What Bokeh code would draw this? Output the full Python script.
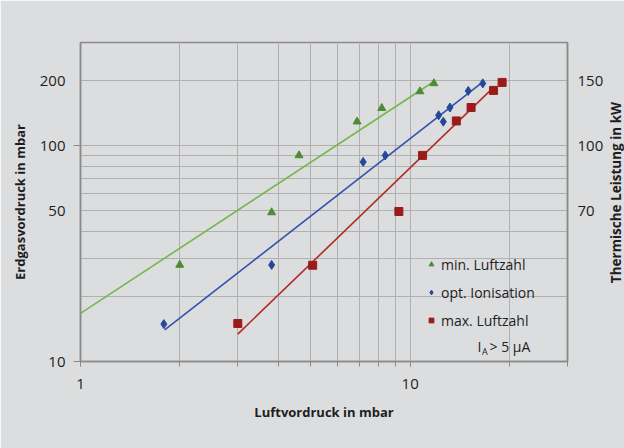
import math
from bokeh.plotting import figure
from bokeh.models import (FixedTicker, LogAxis, Legend, LegendItem, Label)
from bokeh.embed import file_html
from bokeh.resources import INLINE

# ---- data ----
min_x = [2.0, 3.8, 4.6, 6.9, 8.2, 10.7, 11.8]
min_y = [28, 49, 90, 129, 149, 178, 194]

opt_x = [1.79, 3.8, 7.2, 8.4, 12.2, 12.6, 13.2, 15.0, 16.6]
opt_y = [14.9, 28, 84, 90, 138, 129, 150, 179, 194]

max_x = [3.0, 5.06, 9.24, 10.9, 13.8, 15.3, 17.9, 19.0]
max_y = [15.0, 27.9, 49.5, 90, 130, 150, 180, 196]

# trend lines (power fits) end points
min_fit_x = [1.0, 11.8]
min_fit_y = [16.7, 198]
opt_fit_x = [1.8, 16.4]
opt_fit_y = [14.0, 194]
max_fit_x = [3.0, 17.9]
max_fit_y = [13.4, 186]

x_label_ticks = [1, 10]
x_minor_ticks = [1, 2, 3, 4, 5, 6, 7, 8, 9, 10, 20, 30]
x_grid_ticks = [2, 3, 4, 5, 6, 7, 8, 9, 10, 20]
y_label_ticks = [10, 50, 100, 200]
y_minor_ticks = [10, 100]
y_grid_ticks = [20, 30, 40, 50, 60, 70, 80, 90, 100, 200]
kw_tick_pos = [50, 100, 200]
kw_tick_labels = ["70", "100", "150"]

series_names = ["min. Luftzahl", "opt. Ionisation", "max. Luftzahl"]

BG = "#dcdddf"
GRID = "#b0b0b0"
FRAME = "#8a8a8a"
FONT = "Open Sans"
TXT = "#1e1e1e"

p = figure(width=624, height=448, x_axis_type="log", y_axis_type="log",
           x_range=(1, 30), y_range=(10, 300),
           output_backend="svg", toolbar_location=None,
           min_border_left=80, min_border_right=57, min_border_top=42, min_border_bottom=87)

p.background_fill_color = BG
p.border_fill_color = BG
p.outline_line_color = FRAME
p.outline_line_width = 1.5

# grids
p.xgrid.ticker = FixedTicker(ticks=x_grid_ticks)
p.ygrid.ticker = FixedTicker(ticks=y_grid_ticks)
for g in (p.xgrid, p.ygrid):
    g.grid_line_color = GRID
    g.grid_line_width = 1

# x axis
xa = p.xaxis[0]
xa.ticker = FixedTicker(ticks=x_label_ticks, minor_ticks=x_minor_ticks)
xa.major_label_overrides = {t: str(t) for t in x_label_ticks}
xa.major_tick_out = 5
xa.major_tick_in = 0
xa.minor_tick_out = 5
xa.minor_tick_in = 0
xa.axis_label = "Luftvordruck in mbar"

# left y axis
ya = p.yaxis[0]
ya.ticker = FixedTicker(ticks=y_label_ticks, minor_ticks=y_minor_ticks)
ya.major_label_overrides = {t: str(t) for t in y_label_ticks}
ya.major_tick_out = 0
ya.major_tick_in = 0
ya.minor_tick_out = 7
ya.minor_tick_in = 0
ya.axis_label = "Erdgasvordruck in mbar"

# right y axis
ra = LogAxis(ticker=FixedTicker(ticks=kw_tick_pos, minor_ticks=[]),
             major_label_overrides={pos: lab for pos, lab in zip(kw_tick_pos, kw_tick_labels)})
ra.major_tick_out = 0
ra.major_tick_in = 0
ra.minor_tick_out = 0
ra.minor_tick_in = 0
p.add_layout(ra, "right")

for ax in (xa, ya, ra):
    ax.axis_line_color = FRAME
    ax.axis_line_width = 1.5
    ax.major_tick_line_color = FRAME
    ax.minor_tick_line_color = FRAME
    ax.major_label_text_font = FONT
    ax.major_label_text_font_size = "15px"
    ax.major_label_text_color = TXT
    ax.axis_label_text_font = FONT
    ax.axis_label_text_font_size = "13px"
    ax.axis_label_text_font_style = "bold"
    ax.axis_label_text_color = TXT

xa.major_label_standoff = 12
xa.axis_label_standoff = 11
ya.major_label_standoff = 8
ya.axis_label_standoff = 8
ra.major_label_standoff = 10

# right axis title (reads bottom to top), placed in the right side panel
p.add_layout(Label(x=9, y=169, x_units="screen", y_units="screen",
                   text="Thermische Leistung in kW", angle=math.pi / 2,
                   text_align="center", text_baseline="middle",
                   text_font=FONT, text_font_size="13.5px", text_font_style="bold",
                   text_color=TXT), "right")

# trend lines
p.line(min_fit_x, min_fit_y, line_color="#72b84c", line_width=1.6)
p.line(opt_fit_x, opt_fit_y, line_color="#3151ad", line_width=1.6)
p.line(max_fit_x, max_fit_y, line_color="#b02c24", line_width=1.6)

# points
r_min = p.scatter(min_x, min_y, marker="triangle", size=8, fill_color="#4f8a35", line_color="#4f8a35")
r_opt = p.scatter(opt_x, opt_y, marker="diamond", size=9, fill_color="#25489c", line_color="#25489c")
r_max = p.scatter(max_x, max_y, marker="square", size=8, fill_color="#9b1b1b", line_color="#9b1b1b")

legend = Legend(items=[LegendItem(label=series_names[0], renderers=[r_min]),
                       LegendItem(label=series_names[1], renderers=[r_opt]),
                       LegendItem(label=series_names[2], renderers=[r_max])],
                location=(345, 31), orientation="vertical",
                background_fill_alpha=0, border_line_alpha=0,
                padding=0, margin=0, spacing=8,
                glyph_width=12, glyph_height=20, label_height=20, label_standoff=4,
                label_text_font=FONT, label_text_font_size="14px", label_text_color=TXT)
p.add_layout(legend, "center")

# I_A > 5 µA note
p.add_layout(Label(x=397, y=15, x_units="screen", y_units="screen", text="I",
                   text_font=FONT, text_font_size="14px", text_color=TXT, text_baseline="middle"))
p.add_layout(Label(x=401.5, y=10, x_units="screen", y_units="screen", text="A",
                   text_font=FONT, text_font_size="9px", text_color=TXT, text_baseline="middle"))
p.add_layout(Label(x=409, y=15, x_units="screen", y_units="screen", text="> 5 µA",
                   text_font=FONT, text_font_size="14px", text_color=TXT, text_baseline="middle"))

open("out.html", "w").write(file_html(p, INLINE))
